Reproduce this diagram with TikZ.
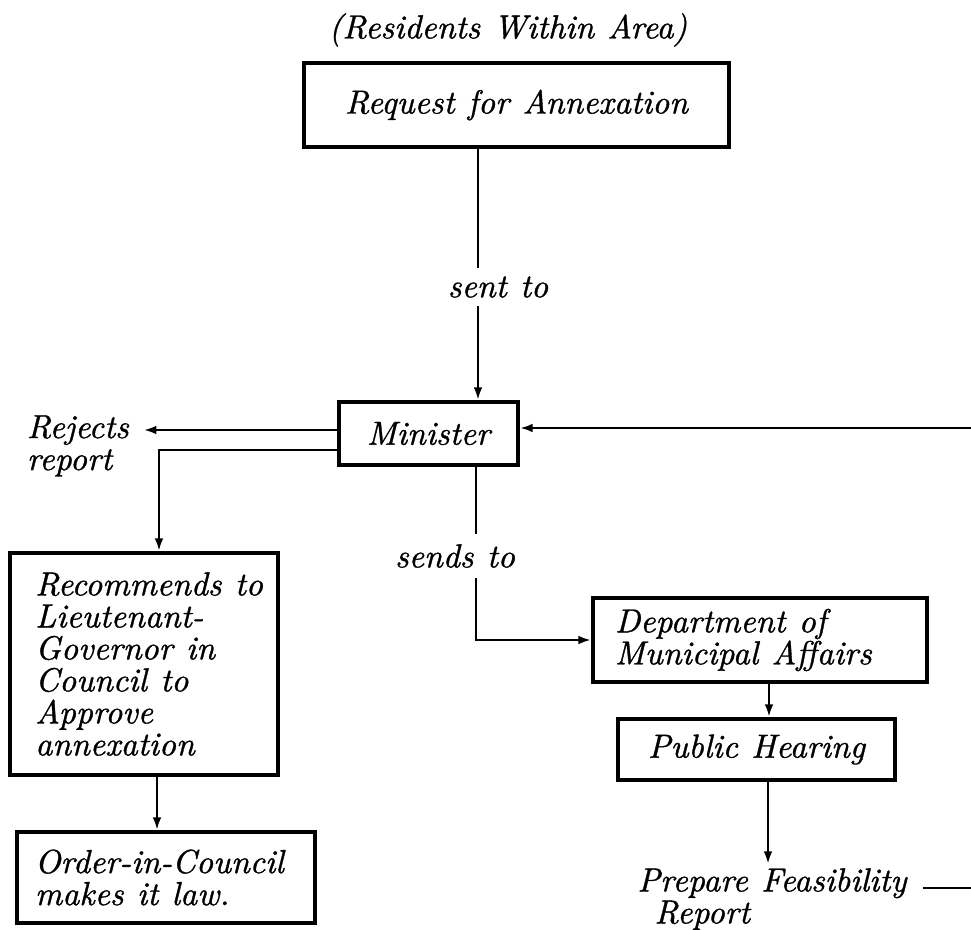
\documentclass[tikz,border=0pt]{standalone}
\usepackage{fontspec}
\usetikzlibrary{arrows.meta}
% pen-like lettering: Latin Modern italic, slightly emboldened
\newfontface\handface{lmroman10-italic.otf}[FakeBold=1.0]
\begin{document}
\begin{tikzpicture}[x=0.75pt,y=-0.75pt,
  every node/.style={font=\handface\fontsize{25}{24}\selectfont,
    execute at begin node={\setlength{\spaceskip}{10pt plus 2pt minus 1pt}}},
  box/.style={draw, line width=2.9pt, rectangle, inner sep=0pt},
  leftbox/.style={box, align=left},
  conn/.style={line width=1.8pt},
  arr/.style={conn, -{Latex[length=9.5pt,width=6.5pt]}},
  tag/.style={fill=white, inner xsep=2pt, inner ysep=0pt},
  plain/.style={inner sep=0pt, align=left}]
\fill[white] (0,0) rectangle (971,930);
\useasboundingbox (0,0) rectangle (971,930);

% boxes
\node (res) at (508,30) {(Residents Within Area)};
\node[box, minimum width=318.75pt, minimum height=63pt] (req) at (516.5,105) {Request for Annexation};
\node[box, minimum width=134.25pt, minimum height=47.25pt] (min) at (428.5,433.5) {Minister};
\node[leftbox, minimum height=166.5pt, text width=163pt, inner xsep=19pt] (rec) at (144,664)
  {\mbox{Recommends to}\\Lieutenant-\\Governor in\\Council to\\Approve\\annexation};
\node[leftbox, minimum height=68.25pt, text width=196.5pt, inner xsep=13.5pt] (ord) at (166,877.5)
  {\mbox{Order-in-Council}\\makes it law.};
\node[leftbox, minimum height=63pt, text width=217.5pt, inner xsep=16.5pt] (dept) at (760,640)
  {Department of\\Municipal Affairs};
\node[box, minimum width=207.75pt, minimum height=45.75pt] (hear) at (756.5,749.5) {Public Hearing};

% free-standing labels
\node[plain, anchor=north west, inner xsep=11pt] (rej) at (12,415) {Rejects\\report};
\node[plain, anchor=north, inner xsep=12pt, inner ysep=3pt] (prep) at (772,864)
  {Prepare Feasibility\\\hspace*{12.75pt}Report};

% routing helpers
\coordinate (xa) at (478,0);
\coordinate (xb) at (476,0);
\coordinate (xc) at (159,450);
\coordinate (xd) at (157,0);
\coordinate (xe) at (769,0);
\coordinate (xf) at (768,0);
\coordinate (ya) at (0,430);
\coordinate (edgeA) at (971,428);
\coordinate (edgeB) at (971,888);

% connectors
\draw[arr] (req.south -| xa) -- (min.north -| xa);
\draw[arr] (min.west |- ya) -- (rej.east |- ya);
\draw[arr] (min.west |- xc) -| (rec.north -| xc);
\draw[arr] (rec.south -| xd) -- (ord.north -| xd);
\draw[arr] (min.south -| xb) |- (dept.west);
\draw[arr] (dept.south -| xe) -- (hear.north -| xe);
\draw[arr] (hear.south -| xf) -- (prep.north -| xf);
\draw[conn] (prep.east |- edgeB) -- (edgeB);
\draw[arr] (edgeA) -- (min.east |- edgeA);

% connector labels
\node[tag, minimum height=28.5pt] (sent) at (498,287) {sent to};
\node[tag, minimum height=33pt] (sends) at (455,556) {sends to};
\end{tikzpicture}
\end{document}
